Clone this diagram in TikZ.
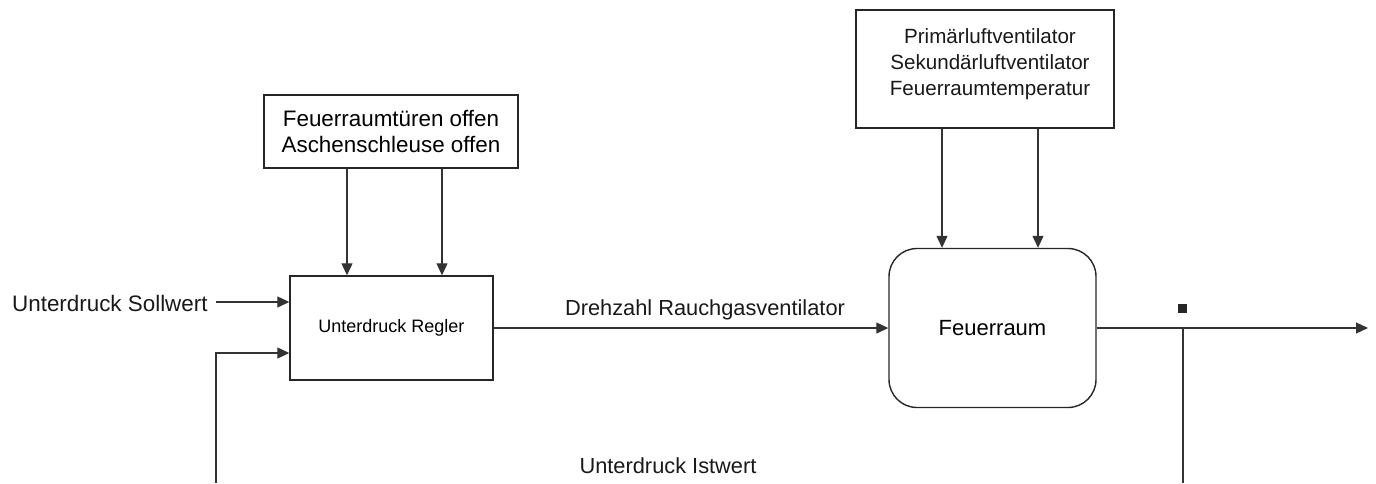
\documentclass[tikz,border=0pt]{standalone}
\usepackage{fontspec}
\setmainfont{Liberation Sans}
\usetikzlibrary{arrows.meta,calc}
\begin{document}
\begin{tikzpicture}[x=0.5pt,y=-0.5pt,
  box/.style={draw=black!85,line width=0.7pt,rectangle,inner sep=0pt},
  lbl/.style={inner sep=0pt,text=black!90},
  conn/.style={draw=black!80,line width=0.6pt},
  arr/.style={conn,-{Triangle[length=6pt,width=5.5pt]}}]
\useasboundingbox (0,0) rectangle (1376,483);
% boxes
\node[box,minimum width=127pt,minimum height=36.5pt,align=center,
  font=\fontsize{11.2}{13}\selectfont] (doors) at (391,131.5)
  {Feuerraumtüren offen\\Aschenschleuse offen};
\node[box,minimum width=101.5pt,minimum height=52pt,
  font=\fontsize{9}{11}\selectfont] (regler) at (391.5,328) {Unterdruck Regler};
\node[box,rounded corners=14pt,minimum width=103.5pt,minimum height=79.5pt,
  font=\fontsize{11}{13}\selectfont] (feuer) at (992.5,328) {Feuerraum};
\node[box,minimum width=129pt,minimum height=59pt] (topbox) at (985,69) {};
\node[lbl,align=center,font=\fontsize{10.3}{13}\selectfont] (toptext) at (990,64)
  {Primärluftventilator\\Sekundärluftventilator\\Feuerraumtemperatur};
% labels
\node[lbl,anchor=base east,font=\fontsize{11.2}{13}\selectfont] (soll) at (208,311) {Unterdruck Sollwert};
\node[lbl,anchor=base,font=\fontsize{10.9}{13}\selectfont] (dreh) at (705,315) {Drehzahl Rauchgasventilator};
\node[lbl,anchor=base,font=\fontsize{10.9}{13}\selectfont] (ist) at (668,473) {Unterdruck Istwert};
\node[fill=black!85,minimum size=4.5pt,inner sep=0pt] (dot) at (1182,308) {};
% coordinates
\coordinate (a1) at (347,0);
\coordinate (a2) at (442,0);
\coordinate (b1) at (942,0);
\coordinate (b2) at (1038,0);
\coordinate (sollstart) at (216,302);
\coordinate (in2) at (216,353);
\coordinate (fbbot) at (216,483);
\coordinate (out) at (1368,328);
\coordinate (tap) at (1183,328);
\coordinate (tapbot) at (1183,483);
% connectors
\draw[arr] (a1 |- doors.south) -- (a1 |- regler.north);
\draw[arr] (a2 |- doors.south) -- (a2 |- regler.north);
\draw[arr] (b1 |- topbox.south) -- (b1 |- feuer.north);
\draw[arr] (b2 |- topbox.south) -- (b2 |- feuer.north);
\draw[arr] (sollstart) -- (sollstart -| regler.west);
\draw[arr] (fbbot) -- (in2) -- (in2 -| regler.west);
\draw[arr] (regler.east) -- (feuer.west);
\draw[arr] (feuer.east) -- (out);
\draw[conn] (tap) -- (tapbot);
\end{tikzpicture}
\end{document}
